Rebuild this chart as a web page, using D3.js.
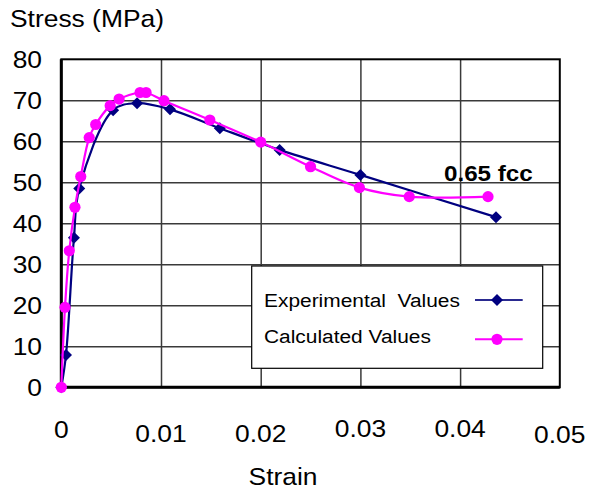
<!DOCTYPE html>
<html><head><meta charset="utf-8">
<script src="https://cdn.jsdelivr.net/npm/d3@7"></script>
<style>
body{margin:0;background:#fff}
svg{display:block}
text{font-family:"Liberation Sans",Arial,Helvetica,sans-serif;fill:#000}
</style>
</head><body>
<svg id="c" width="592" height="491"></svg>
<script>
// ---- data ----
const xTicks = [0, 0.01, 0.02, 0.03, 0.04, 0.05];
const xTickLabels = ["0", "0.01", "0.02", "0.03", "0.04", "0.05"];
const yTicks = [0, 10, 20, 30, 40, 50, 60, 70, 80];
const yTickLabels = ["0", "10", "20", "30", "40", "50", "60", "70", "80"];
const expStrain = [0, 0.00047, 0.00127, 0.0018, 0.0052, 0.0076, 0.0109, 0.0159, 0.0219, 0.0300, 0.0436];
const expStress = [0, 7.9, 36.5, 48.5, 67.6, 69.3, 67.8, 63.2, 57.9, 51.8, 41.5];
const calcStrain = [0, 0.00037, 0.0008, 0.00137, 0.00195, 0.0028, 0.00345, 0.0049, 0.0058, 0.0079, 0.0085, 0.0103, 0.0149, 0.0200, 0.0250, 0.0299, 0.0349, 0.0428];
const calcStress = [0, 19.5, 33.3, 43.9, 51.4, 60.9, 64.1, 68.7, 70.3, 71.9, 71.9, 69.9, 65.2, 59.8, 53.8, 48.7, 46.5, 46.5];
const seriesNames = ["Experimental  Values", "Calculated Values"];
const seriesColors = ["#000080", "#ff00ff"];
const annotationText = "0.65 fcc";
const yTitle = "Stress (MPa)";
const xTitle = "Strain";

// ---- layout ----
const SX = 1.1; // horizontal text stretch seen in the reference
const xLabelDy = [438, 441.5, 441.5, 437, 437, 442.5];
const svg = d3.select("#c");
const x = d3.scaleLinear().domain([0, 0.05]).range([61.3, 559.8]);
const y = d3.scaleLinear().domain([0, 80]).range([387.3, 59.3]);

function txt(g, px, py, s, size, anchor, weight) {
  return g.append("text")
    .attr("transform", `translate(${px},${py}) scale(${SX},1)`)
    .attr("text-anchor", anchor || "start")
    .style("font-size", size + "px")
    .style("font-weight", weight || "normal")
    .style("white-space", "pre")
    .text(s);
}

// gridlines via axes
svg.append("g").attr("transform", `translate(0,${y(0)})`)
  .call(d3.axisBottom(x).tickValues(xTicks.slice(1, -1)).tickSize(-(y(0) - y(80))).tickFormat(""))
  .call(g => g.select(".domain").remove())
  .call(g => g.selectAll("line").attr("stroke", "#3a3a3a").attr("stroke-width", 1.5));
svg.append("g").attr("transform", `translate(${x(0)},0)`)
  .call(d3.axisLeft(y).tickValues(yTicks.slice(1, -1)).tickSize(-(x(0.05) - x(0))).tickFormat(""))
  .call(g => g.select(".domain").remove())
  .call(g => g.selectAll("line").attr("stroke", "#3a3a3a").attr("stroke-width", 1.5));

// frame
svg.append("rect").attr("x", x(0)).attr("y", y(80))
  .attr("width", x(0.05) - x(0)).attr("height", y(0) - y(80))
  .attr("fill", "none").attr("stroke", "#000").attr("stroke-width", 2);
svg.append("line").attr("x1", x(0)).attr("x2", x(0)).attr("y1", y(80)).attr("y2", y(0))
  .attr("stroke", "#000").attr("stroke-width", 3);
svg.append("line").attr("x1", x(0)).attr("x2", x(0.05)).attr("y1", y(0)).attr("y2", y(0))
  .attr("stroke", "#000").attr("stroke-width", 3);

// tick labels
const lab = svg.append("g");
yTicks.forEach((v, i) => txt(lab, 42, y(v) + 8.5, yTickLabels[i], 24, "end"));
xTicks.forEach((v, i) => txt(lab, x(v), xLabelDy[i], xTickLabels[i], 24, "middle"));
txt(lab, 10, 27.3, yTitle, 24, "start");
txt(lab, 283, 485, xTitle, 24, "middle");

// series
const diamond = (g, cx, cy, r, color) => g.append("path")
  .attr("d", `M${cx},${cy - r}L${cx + r},${cy}L${cx},${cy + r}L${cx - r},${cy}Z`).attr("fill", color);

const line = d3.line().x(d => x(d[0])).y(d => y(d[1])).curve(d3.curveCatmullRom.alpha(0.5));
const expData = expStrain.map((s, i) => [s, expStress[i]]);
const calcData = calcStrain.map((s, i) => [s, calcStress[i]]);

const gs = svg.append("g");
gs.append("path").datum(expData).attr("d", line).attr("fill", "none")
  .attr("stroke", seriesColors[0]).attr("stroke-width", 2.2);
expData.forEach(d => diamond(gs, x(d[0]), y(d[1]), 6, seriesColors[0]));

gs.append("path").datum(calcData).attr("d", line).attr("fill", "none")
  .attr("stroke", seriesColors[1]).attr("stroke-width", 2.2);
gs.selectAll("circle.calc").data(calcData).join("circle").attr("class", "calc")
  .attr("cx", d => x(d[0])).attr("cy", d => y(d[1])).attr("r", 5.6).attr("fill", seriesColors[1]);

// annotation
txt(svg, 444, 180.5, annotationText, 22, "start", "bold");

// legend
const lg = svg.append("g");
lg.append("rect").attr("x", 251.7).attr("y", 266).attr("width", 291).attr("height", 102.3)
  .attr("fill", "#fff").attr("stroke", "#000").attr("stroke-width", 1.2);
const legY = [300, 339.3];
const legTextY = [306.5, 342.7];
seriesNames.forEach((n, i) => {
  txt(lg, 264, legTextY[i], n, 19, "start");
  lg.append("line").attr("x1", 475).attr("x2", 522.7).attr("y1", legY[i]).attr("y2", legY[i])
    .attr("stroke", i === 0 ? "#2a2a90" : seriesColors[1]).attr("stroke-width", 2);
  if (i === 0) diamond(lg, 497, legY[i], 6, seriesColors[0]);
  else lg.append("circle").attr("cx", 497).attr("cy", legY[i]).attr("r", 5.6).attr("fill", seriesColors[1]);
});
</script>
</body></html>
